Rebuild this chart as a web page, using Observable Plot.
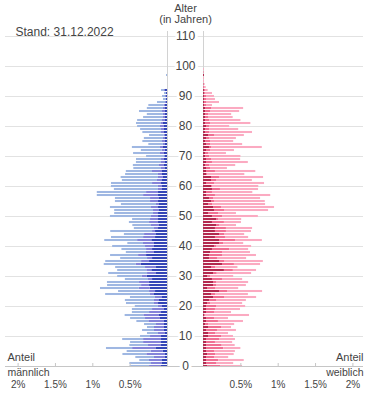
<!DOCTYPE html>
<html><head><meta charset="utf-8">
<script src="https://cdn.jsdelivr.net/npm/d3@7"></script>
<script src="https://cdn.jsdelivr.net/npm/@observablehq/plot@0.6"></script>
<style>body{margin:0;background:#fff;} svg{display:block}</style>
</head><body><div id="chart"></div>
<script>
const title = "Stand: 31.12.2022";
const ages = d3.range(0, 101);
// values in % of population, per age 0..100; inner (dark), middle, outer (light) segment
const maleDark = [
0.08,0.067,0.067,0.027,0.027,0.06,0.147,0.08,0.08,0.08,
0.08,0.027,0.04,0.04,0.04,0.04,0.094,0.107,0.08,0.04,
0.067,0.12,0.107,0.067,0.174,0.16,0.23,0.24,0.24,0.20,
0.27,0.147,0.21,0.147,0.35,0.24,0.20,0.28,0.174,0.20,
0.174,0.174,0.21,0.16,0.147,0.16,0.12,0.107,0.12,0.12,
0.12,0.12,0.107,0.12,0.107,0.12,0.107,0.12,0.12,0.067,
0.067,0.08,0.067,0.054,0.067,0.067,0.027,0.04,0.027,0.04,
0.027,0.04,0.03,0.054,0.027,0.027,0.027,0.027,0.04,0.04,
0.04,0.054,0.027,0.027,0.027,0.027,0.027,0.027,0.013,0.013,
0.013,0.013,0.027,0,0,0,0,0,0,0,
0];
const maleMid = [
0.16,0.147,0.174,0.147,0.25,0.16,0.32,0.174,0.24,0.24,
0.147,0.094,0.134,0.134,0.107,0.21,0.20,0.21,0.16,0.16,
0.054,0.054,0.067,0.094,0.054,0.08,0.147,0.107,0.134,0.054,
0.067,0.12,0.067,0.147,0.067,0.107,0.067,0.107,0.107,0.08,
0.12,0.147,0.19,0.16,0.16,0.04,0.054,0.107,0.12,0.107,
0.094,0.067,0.08,0.094,0.04,0.107,0.12,0.20,0.16,0.054,
0.054,0.12,0.067,0.067,0.054,0.134,0.054,0.067,0.054,0.04,
0.013,0.054,0.04,0.04,0.027,0.04,0.027,0.02,0.04,0.04,
0.054,0.027,0.04,0.027,0.027,0.04,0.027,0.02,0.013,0,
0.013,0,0.013,0,0,0,0,0,0,0,
0];
const maleLight = [
0.26,0.29,0.13,0.25,0.32,0.32,0.35,0.25,0.174,0.28,
0.134,0.147,0.16,0.094,0.16,0.16,0.20,0.25,0.23,0.27,
0.31,0.375,0.39,0.335,0.60,0.415,0.52,0.455,0.43,0.31,
0.33,0.52,0.39,0.40,0.43,0.48,0.36,0.375,0.27,0.33,
0.44,0.21,0.44,0.43,0.27,0.56,0.27,0.25,0.27,0.24,
0.55,0.52,0.52,0.55,0.47,0.47,0.47,0.62,0.66,0.59,
0.63,0.55,0.47,0.50,0.44,0.35,0.37,0.35,0.335,0.335,
0.24,0.36,0.28,0.376,0.196,0.263,0.256,0.193,0.25,0.28,
0.306,0.334,0.333,0.266,0.216,0.308,0.216,0.203,0.108,0.041,
0.041,0.027,0.04,0,0,0,0,0.013,0,0,
0];
const femaleDark = [
0.054,0.04,0.04,0.04,0.054,0.04,0.04,0.04,0.04,0.04,
0.067,0.067,0.04,0.067,0.027,0.04,0.04,0.013,0.04,0.04,
0.04,0.054,0.08,0.134,0.107,0.214,0.054,0.134,0.134,0.12,
0.054,0.134,0.28,0.107,0.254,0.214,0.08,0.08,0.094,0.12,
0.147,0.214,0.214,0.16,0.214,0.16,0.16,0.174,0.12,0.174,
0.12,0.067,0.147,0.134,0.067,0.107,0.08,0.04,0.04,0.12,
0.107,0.04,0.107,0.107,0.04,0.04,0.04,0.027,0.04,0.04,
0.027,0.027,0.04,0.08,0.04,0.027,0.04,0.067,0.027,0.027,
0.04,0.027,0.027,0.027,0.027,0.027,0.027,0.013,0.013,0.013,
0.013,0.013,0.013,0,0.005,0,0,0.013,0.005,0,
0];
const femaleMid = [
0.174,0.134,0.165,0.107,0.107,0.107,0.23,0.21,0.12,0.174,
0.174,0.094,0.147,0.174,0.04,0.16,0.107,0.013,0.107,0.12,
0.134,0.04,0.094,0.147,0.054,0.107,0.107,0.04,0.04,0.134,
0.04,0.05,0.12,0.054,0.16,0.067,0.107,0.174,0.16,0.23,
0.027,0.054,0.214,0.134,0.067,0.147,0.147,0.04,0.16,0.027,
0.134,0.134,0.134,0.107,0.054,0.04,0.054,0.12,0.08,0.107,
0.013,0.107,0.067,0.107,0.013,0.12,0.054,0.054,0.08,0.067,
0.054,0.04,0.054,0.027,0.054,0.067,0.04,0.08,0.054,0.054,
0.04,0.067,0.054,0.04,0.04,0.067,0.08,0.027,0.027,0.027,
0.027,0.013,0.013,0.013,0.01,0,0,0,0,0,
0];
const femaleLight = [
0.295,0.23,0.34,0.19,0.25,0.28,0.23,0.174,0.23,0.214,
0.16,0.174,0.254,0.134,0.35,0.335,0.187,0.59,0.228,0.335,
0.39,0.43,0.40,0.43,0.44,0.47,0.31,0.40,0.43,0.27,
0.31,0.46,0.31,0.30,0.35,0.52,0.39,0.455,0.375,0.254,
0.47,0.27,0.36,0.31,0.27,0.335,0.35,0.228,0.228,0.31,
0.48,0.24,0.59,0.71,0.71,0.68,0.63,0.74,0.54,0.51,
0.62,0.67,0.48,0.59,0.50,0.54,0.226,0.35,0.48,0.39,
0.42,0.24,0.32,0.68,0.43,0.31,0.36,0.40,0.575,0.39,
0.27,0.54,0.42,0.33,0.31,0.39,0.43,0.08,0.174,0.12,
0.107,0.094,0.036,0.023,0.007,0.013,0.013,0,0.008,0.01,
0];
const ageTicks = d3.range(0, 111, 10);
const pctTicks = [0.5, 1, 1.5, 2];
const pctLabels = ["0.5%", "1%", "1.5%", "2%"];
const segKeys = ["m1", "m2", "m3", "f1", "f2", "f3"];
const segColors = ["#3445b6", "#8483d9", "#9fb7e2", "#b3294f", "#f06f93", "#fbaac1"];

const GAP = 0.241; // half of the empty centre column, in % units
const segs = [];
ages.forEach((a, i) => {
  let c = 0;
  [[maleDark, "m1"], [maleMid, "m2"], [maleLight, "m3"]].forEach(([arr, k]) => {
    const v = arr[i];
    if (v > 0) segs.push({age: a, k, x1: -(GAP + c), x2: -(GAP + c + v)});
    c += v;
  });
  c = 0;
  [[femaleDark, "f1"], [femaleMid, "f2"], [femaleLight, "f3"]].forEach(([arr, k]) => {
    const v = arr[i];
    if (v > 0) segs.push({age: a, k, x1: GAP + c, x2: GAP + c + v});
    c += v;
  });
});
const tickPos = pctTicks.flatMap((t, i) => [
  {x: -(GAP + t), label: pctLabels[i]},
  {x: GAP + t, label: pctLabels[i]}
]);

const font = "'Liberation Sans', Arial, Helvetica, sans-serif";
const chart = Plot.plot({
  width: 375, height: 416,
  marginLeft: 5, marginRight: 12, marginTop: 31, marginBottom: 50,
  style: {fontFamily: font, background: "#fff"},
  x: {domain: [-185 / 74.7, 190 / 74.7], range: [0, 375], axis: null},
  y: {domain: [0, 110], range: [366, 36], axis: null},
  color: {domain: segKeys, range: segColors},
  marks: [
    Plot.ruleY(ageTicks.filter(d => d > 0), {stroke: "#e2e2e2", strokeWidth: 1}),
    Plot.ruleX([-GAP, GAP], {stroke: "#d2d2d2", strokeWidth: 1}),
    Plot.rect(segs, {x1: "x1", x2: "x2", y1: d => d.age - 0.34, y2: d => d.age + 0.34, fill: "k"}),
    Plot.ruleY([0], {stroke: "#c6c6c6", strokeWidth: 1}),
    Plot.ruleX(tickPos, {x: "x", y1: 0, y2: 1, stroke: "#c6c6c6"}),
    Plot.text(ageTicks, {x: 0, y: d => d, text: d => String(d), fontSize: 12, fill: "#444",
      stroke: "#fff", strokeWidth: 6}),
    Plot.text(tickPos, {x: "x", text: "label", frameAnchor: "bottom", dy: 18.5, lineAnchor: "middle",
      fontSize: 10, fill: "#444", letterSpacing: "0.6px"}),
    Plot.text([title], {frameAnchor: "top-left", dx: 10, dy: 1, lineAnchor: "middle",
      textAnchor: "start", fontSize: 12, fill: "#444"}),
    Plot.text(["Alter"], {frameAnchor: "top", dx: 1, dy: -23, lineAnchor: "middle", fontSize: 11, fill: "#444"}),
    Plot.text(["(in Jahren)"], {frameAnchor: "top", dx: 1, dy: -12, lineAnchor: "middle", fontSize: 11, fill: "#444"}),
    Plot.text(["Anteil"], {frameAnchor: "bottom-left", dx: 2, dy: -9, lineAnchor: "middle", textAnchor: "start", fontSize: 11, fill: "#444", letterSpacing: "0.4px"}),
    Plot.text(["männlich"], {frameAnchor: "bottom-left", dx: 2, dy: 6, lineAnchor: "middle", textAnchor: "start", fontSize: 10.5, fill: "#444", letterSpacing: "0.5px"}),
    Plot.text(["Anteil"], {frameAnchor: "bottom-right", dx: 0, dy: -9, lineAnchor: "middle", textAnchor: "end", fontSize: 11, fill: "#444", letterSpacing: "0.4px"}),
    Plot.text(["weiblich"], {frameAnchor: "bottom-right", dx: 0, dy: 6, lineAnchor: "middle", textAnchor: "end", fontSize: 10.5, fill: "#444", letterSpacing: "0.5px"})
  ]
});
document.getElementById("chart").append(chart);
</script>
</body></html>
